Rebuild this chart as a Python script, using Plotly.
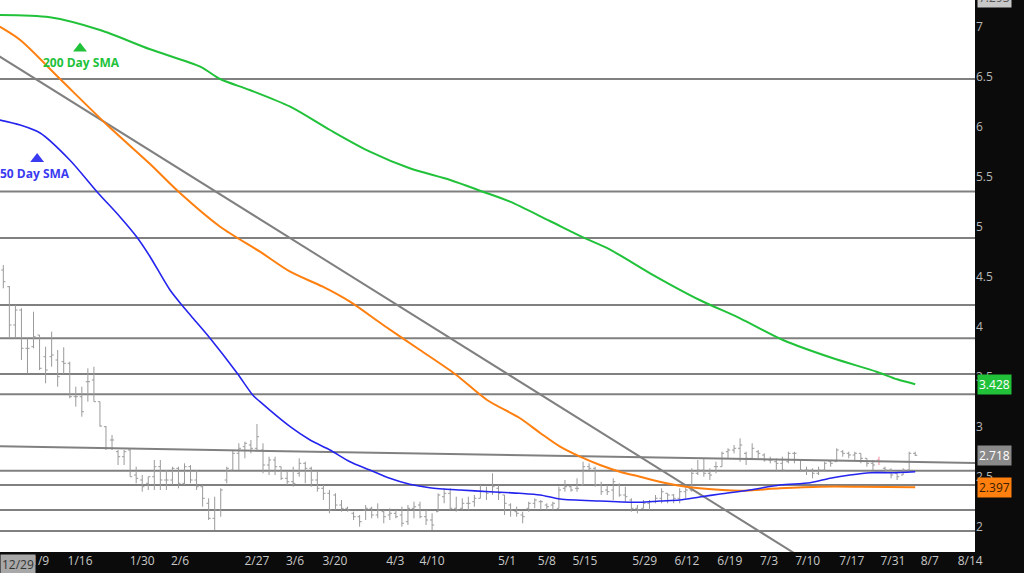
import plotly.graph_objects as go

# ---------------- data ----------------
opens = [4.57, 4.403, 4.02, 4.17, 3.787, 3.803, 3.92, 3.703, 3.703, 3.67,
         3.653, 3.637, 3.303, 3.303, 3.453, 3.47, 3.253, 3.003, 2.87, 2.753,
         2.703, 2.77, 2.52, 2.47, 2.437, 2.503, 2.603, 2.47, 2.47, 2.587,
         2.437, 2.603, 2.47, 2.403, 2.237, 2.087, 2.17, 2.47, 2.57, 2.737,
         2.803, 2.82, 2.787, 2.77, 2.62, 2.67, 2.603, 2.487, 2.453, 2.537,
         2.637, 2.587, 2.47, 2.387, 2.337, 2.32, 2.22, 2.187, 2.137, 2.103,
         2.17, 2.187, 2.12, 2.153, 2.12, 2.137, 2.12, 2.053, 2.187, 2.22,
         2.103, 2.07, 2.153, 2.303, 2.337, 2.187, 2.187, 2.237, 2.253, 2.287,
         2.353, 2.353, 2.387, 2.32, 2.22, 2.153, 2.12, 2.187, 2.237, 2.253,
         2.22, 2.22, 2.187, 2.387, 2.403, 2.387, 2.42, 2.603, 2.587, 2.42,
         2.37, 2.37, 2.42, 2.32, 2.27, 2.187, 2.187, 2.237, 2.253, 2.287,
         2.337, 2.32, 2.287, 2.353, 2.37, 2.537, 2.57, 2.537, 2.603, 2.603,
         2.753, 2.77, 2.787, 2.737, 2.687, 2.753, 2.72, 2.67, 2.653, 2.637,
         2.653, 2.737, 2.67, 2.57, 2.57, 2.537, 2.57, 2.653, 2.653, 2.753,
         2.737, 2.72, 2.737, 2.687, 2.637, 2.67, 2.587, 2.57, 2.537, 2.52,
         2.57, 2.737]
highs = [4.62, 4.41, 4.22, 4.187, 3.887, 4.153, 3.92, 3.803, 3.953, 3.77,
         3.797, 3.653, 3.403, 3.403, 3.587, 3.603, 3.253, 3.01, 2.92, 2.77,
         2.77, 2.777, 2.603, 2.52, 2.503, 2.67, 2.67, 2.57, 2.603, 2.603,
         2.637, 2.62, 2.57, 2.42, 2.287, 2.303, 2.387, 2.603, 2.77, 2.837,
         2.853, 2.87, 3.03, 2.837, 2.703, 2.703, 2.603, 2.553, 2.603, 2.687,
         2.653, 2.603, 2.553, 2.42, 2.37, 2.337, 2.27, 2.203, 2.153, 2.12,
         2.22, 2.203, 2.237, 2.17, 2.187, 2.17, 2.203, 2.22, 2.253, 2.253,
         2.17, 2.137, 2.337, 2.387, 2.387, 2.303, 2.287, 2.303, 2.32, 2.42,
         2.403, 2.537, 2.42, 2.32, 2.237, 2.203, 2.153, 2.253, 2.287, 2.27,
         2.237, 2.253, 2.403, 2.47, 2.42, 2.487, 2.653, 2.637, 2.603, 2.453,
         2.42, 2.487, 2.437, 2.403, 2.287, 2.22, 2.27, 2.27, 2.32, 2.387,
         2.337, 2.33, 2.387, 2.403, 2.587, 2.67, 2.687, 2.587, 2.653, 2.753,
         2.787, 2.82, 2.887, 2.753, 2.837, 2.77, 2.737, 2.703, 2.687, 2.703,
         2.753, 2.753, 2.67, 2.603, 2.587, 2.603, 2.653, 2.67, 2.787, 2.77,
         2.753, 2.753, 2.737, 2.687, 2.67, 2.703, 2.603, 2.587, 2.553, 2.587,
         2.753, 2.753]
lows = [4.387, 3.887, 3.887, 3.67, 3.537, 3.787, 3.57, 3.437, 3.603, 3.403,
        3.53, 3.287, 3.203, 3.103, 3.253, 3.253, 3.003, 2.77, 2.77, 2.62,
        2.62, 2.503, 2.437, 2.353, 2.37, 2.37, 2.37, 2.37, 2.42, 2.387,
        2.42, 2.437, 2.37, 2.203, 2.07, 1.97, 2.103, 2.437, 2.57, 2.57,
        2.687, 2.737, 2.77, 2.537, 2.52, 2.52, 2.47, 2.42, 2.403, 2.503,
        2.437, 2.403, 2.353, 2.27, 2.137, 2.17, 2.153, 2.153, 2.07, 2.003,
        2.07, 2.087, 2.087, 2.037, 2.07, 2.087, 2.003, 2.02, 2.087, 2.087,
        2.02, 1.97, 2.153, 2.237, 2.17, 2.153, 2.17, 2.17, 2.203, 2.287,
        2.27, 2.32, 2.27, 2.12, 2.103, 2.103, 2.037, 2.153, 2.187, 2.17,
        2.17, 2.17, 2.187, 2.353, 2.353, 2.353, 2.42, 2.57, 2.403, 2.32,
        2.32, 2.27, 2.303, 2.253, 2.153, 2.137, 2.187, 2.17, 2.237, 2.237,
        2.237, 2.237, 2.237, 2.287, 2.353, 2.52, 2.503, 2.47, 2.537, 2.603,
        2.687, 2.737, 2.653, 2.62, 2.67, 2.687, 2.653, 2.637, 2.553, 2.57,
        2.637, 2.637, 2.553, 2.52, 2.487, 2.52, 2.553, 2.603, 2.653, 2.703,
        2.687, 2.67, 2.637, 2.603, 2.57, 2.62, 2.537, 2.487, 2.47, 2.52,
        2.57, 2.71]
closes = [4.453, 4.02, 4.17, 3.787, 3.787, 3.903, 3.587, 3.57, 3.72, 3.503,
          3.637, 3.303, 3.303, 3.153, 3.453, 3.253, 3.01, 2.787, 2.87, 2.703,
          2.753, 2.503, 2.487, 2.403, 2.503, 2.603, 2.47, 2.47, 2.587, 2.437,
          2.603, 2.47, 2.403, 2.287, 2.087, 2.17, 2.37, 2.587, 2.737, 2.787,
          2.837, 2.787, 2.903, 2.62, 2.67, 2.603, 2.487, 2.453, 2.437, 2.637,
          2.587, 2.47, 2.387, 2.337, 2.17, 2.22, 2.187, 2.17, 2.103, 2.053,
          2.187, 2.12, 2.17, 2.103, 2.137, 2.103, 2.037, 2.187, 2.203, 2.103,
          2.07, 2.02, 2.32, 2.337, 2.187, 2.17, 2.237, 2.237, 2.287, 2.353,
          2.337, 2.403, 2.337, 2.237, 2.17, 2.137, 2.103, 2.237, 2.27, 2.253,
          2.203, 2.237, 2.37, 2.403, 2.37, 2.387, 2.603, 2.587, 2.42, 2.353,
          2.353, 2.453, 2.32, 2.303, 2.187, 2.17, 2.237, 2.253, 2.287, 2.353,
          2.32, 2.287, 2.353, 2.37, 2.537, 2.57, 2.537, 2.52, 2.603, 2.737,
          2.77, 2.787, 2.82, 2.687, 2.787, 2.737, 2.67, 2.67, 2.637, 2.57,
          2.737, 2.737, 2.57, 2.57, 2.537, 2.57, 2.637, 2.637, 2.77, 2.737,
          2.72, 2.737, 2.687, 2.637, 2.62, 2.653, 2.57, 2.52, 2.503, 2.57,
          2.737, 2.718]
bar_idx = list(range(len(closes)))
pink_bar = 145

sma200_idx = [-0.6, 7.7, 16.0, 24.3, 32.6, 35.9, 40.8, 47.5, 54.1, 60.7, 67.3, 74.0,
              79.4, 83.9, 90.5, 96.0, 100.4, 107.1, 115.3, 122.0, 129.1, 137.4,
              144.6, 148.0, 151.0]
sma200_val = [7.12, 7.097, 6.97, 6.777, 6.603, 6.48, 6.37, 6.203, 5.97, 5.753, 5.587,
              5.47, 5.353, 5.253, 5.06, 4.897, 4.777, 4.537, 4.27, 4.087, 3.87,
              3.687, 3.553, 3.477, 3.428]

sma100_idx = [-0.6, 2.8, 9.4, 17.2, 24.3, 29.3, 35.9, 42.5, 47.5, 52.9, 57.4, 62.9,
              69.0, 74.8, 80.1, 85.5, 88.9, 92.2, 95.5, 98.8, 102.1, 105.4, 108.7,
              112.0, 115.3, 122.0, 128.6, 135.2, 141.9, 151.0]
sma100_val = [7.003, 6.87, 6.48, 6.02, 5.63, 5.337, 5.003, 4.753, 4.553, 4.403, 4.253,
              4.02, 3.77, 3.53, 3.27, 3.09, 2.94, 2.803, 2.703, 2.62, 2.553, 2.503,
              2.453, 2.413, 2.387, 2.363, 2.387, 2.403, 2.403, 2.397]

sma50_idx = [-0.6, 2.8, 6.1, 11.0, 15.5, 19.3, 22.1, 24.3, 27.6, 29.8, 31.2, 34.2,
             38.7, 41.3, 42.5, 47.5, 50.8, 54.1, 57.4, 60.7, 64.0, 67.3, 70.6, 75.6,
             80.6, 85.5, 88.9, 92.2, 98.8, 105.4, 108.7, 112.0, 115.3, 118.7, 123.6,
             128.6, 133.6, 136.9, 140.2, 143.6, 146.8, 151.0]
sma50_val = [6.07, 6.02, 5.94, 5.67, 5.353, 5.103, 4.9, 4.703, 4.37, 4.203, 4.103,
             3.89, 3.54, 3.32, 3.253, 3.003, 2.87, 2.77, 2.653, 2.57, 2.487, 2.427,
             2.393, 2.37, 2.353, 2.337, 2.32, 2.28, 2.26, 2.247, 2.26, 2.27, 2.30,
             2.33, 2.37, 2.42, 2.443, 2.487, 2.52, 2.543, 2.543, 2.553]

hlines = [6.48, 5.355, 4.89, 4.22, 3.887, 3.53, 3.327, 2.563, 2.42, 2.17, 1.96]
trend_flat = ([-1, 162], [2.807, 2.640])
trend_steep = ([-1, 135], [6.72, 1.586])

tick_idx = [6.1, 12.7, 23.0, 29.25, 42.0, 48.3, 54.9, 64.9, 71.0, 83.4, 90.0, 96.3,
            106.2, 113.2, 120.3, 126.8, 133.2, 140.5, 147.3, 153.4, 160.1]
tick_txt = ["1/9", "1/16", "1/30", "2/6", "2/27", "3/6", "3/20", "4/3", "4/10", "5/1",
            "5/8", "5/15", "5/29", "6/12", "6/19", "7/3", "7/10", "7/17", "7/31",
            "8/7", "8/14"]
y_ticks = [2, 2.5, 3, 3.5, 4, 4.5, 5, 5.5, 6, 6.5, 7]
y_min, y_max = 1.75, 7.27
top_tag = 7.293

GREEN = "#21c23a"
ORANGE = "#ff7f0f"
BLUE = "#2424ee"
GRAY = "#808080"
FONT = "Open Sans"

fig = go.Figure()

# trend lines
for tx, ty in (trend_flat, trend_steep):
    fig.add_trace(go.Scatter(x=tx, y=ty, mode="lines",
                             line=dict(color=GRAY, width=2), hoverinfo="skip"))

# price bars
normal = [i for i in bar_idx if i != pink_bar]
fig.add_trace(go.Ohlc(x=normal,
                      open=[opens[i] for i in normal], high=[highs[i] for i in normal],
                      low=[lows[i] for i in normal], close=[closes[i] for i in normal],
                      increasing_line_color="#9a9a9a", decreasing_line_color="#9a9a9a",
                      line_width=1, tickwidth=0.35, hoverinfo="skip"))
fig.add_trace(go.Ohlc(x=[pink_bar], open=[opens[pink_bar]], high=[highs[pink_bar]],
                      low=[lows[pink_bar]], close=[closes[pink_bar]],
                      increasing_line_color="#f08a9a", decreasing_line_color="#f08a9a",
                      line_width=1, tickwidth=0.35, hoverinfo="skip"))

# moving averages
fig.add_trace(go.Scatter(x=sma100_idx, y=sma100_val, mode="lines",
                         line=dict(color=ORANGE, width=2, shape="spline", smoothing=0.8),
                         hoverinfo="skip"))
fig.add_trace(go.Scatter(x=sma200_idx, y=sma200_val, mode="lines",
                         line=dict(color=GREEN, width=2, shape="spline", smoothing=0.8),
                         hoverinfo="skip"))
fig.add_trace(go.Scatter(x=sma50_idx, y=sma50_val, mode="lines",
                         line=dict(color=BLUE, width=1.6, shape="spline", smoothing=0.8),
                         hoverinfo="skip"))

# label triangles
fig.add_trace(go.Scatter(x=[12.7], y=[6.785], mode="markers",
                         marker=dict(symbol="triangle-up", size=12, color=GREEN),
                         hoverinfo="skip"))
fig.add_trace(go.Scatter(x=[5.6], y=[5.68], mode="markers",
                         marker=dict(symbol="triangle-up", size=12, color="#3a3af0"),
                         hoverinfo="skip"))

shapes = [dict(type="line", xref="paper", x0=0, x1=1, yref="y", y0=v, y1=v,
               line=dict(color=GRAY, width=2), layer="below") for v in hlines]

annotations = [
    dict(x=12.9, y=6.65, xref="x", yref="y", text="<b>200 Day SMA</b>", showarrow=False,
         font=dict(family=FONT, size=12, color=GREEN)),
    dict(x=0, y=5.54, xref="paper", yref="y", xanchor="left", text="<b>50 Day SMA</b>",
         showarrow=False, xshift=-2, font=dict(family=FONT, size=12, color="#3a3af0")),
]
tags = [(3.428, GREEN, "#ffffff", "3.428"), (2.718, "#8a8a8a", "#ffffff", "2.718"),
        (2.397, ORANGE, "#3a2000", "2.397")]
for v, bg, fc, txt in tags:
    annotations.append(dict(x=1, y=v, xref="paper", yref="y", xanchor="left", xshift=2,
                            text=txt, showarrow=False, bgcolor=bg, borderpad=1,
                            font=dict(family=FONT, size=12, color=fc)))
# top tag lies above the visible range -> place in paper coordinates
annotations.append(dict(x=1, y=(top_tag - y_min) / (y_max - y_min), xref="paper",
                        yref="paper", xanchor="left", yanchor="middle", xshift=2,
                        text="%.3f" % top_tag, showarrow=False, bgcolor="#c8c8c8",
                        borderpad=1, font=dict(family=FONT, size=12, color="#555555")))
annotations.append(dict(x=0, y=0, xref="paper", yref="paper", xanchor="left",
                        yanchor="top", yshift=-2, text="12/29", showarrow=False,
                        bgcolor="#a8a8a8", borderpad=1,
                        font=dict(family=FONT, size=12, color="#333333")))

fig.update_layout(
    width=1024, height=573,
    margin=dict(l=0, r=49, t=0, b=21, autoexpand=False),
    paper_bgcolor="#0b0b0b", plot_bgcolor="#ffffff",
    showlegend=False, shapes=shapes, annotations=annotations,
    xaxis=dict(range=[-0.55, 160.9], showgrid=False, zeroline=False,
               rangeslider=dict(visible=False), tickmode="array",
               tickvals=tick_idx, ticktext=tick_txt, ticks="",
               tickfont=dict(family=FONT, size=12, color="#c8c8c8")),
    yaxis=dict(range=[y_min, y_max], side="right", showgrid=False, zeroline=False,
               tickmode="array", tickvals=y_ticks,
               ticktext=[("%g" % t) for t in y_ticks], ticks="",
               tickfont=dict(family=FONT, size=12, color="#b8b8b8")),
    hovermode=False,
)

fig.write_html("out.html", config={"displayModeBar": False},
               post_script="document.body.style.margin='0';")
